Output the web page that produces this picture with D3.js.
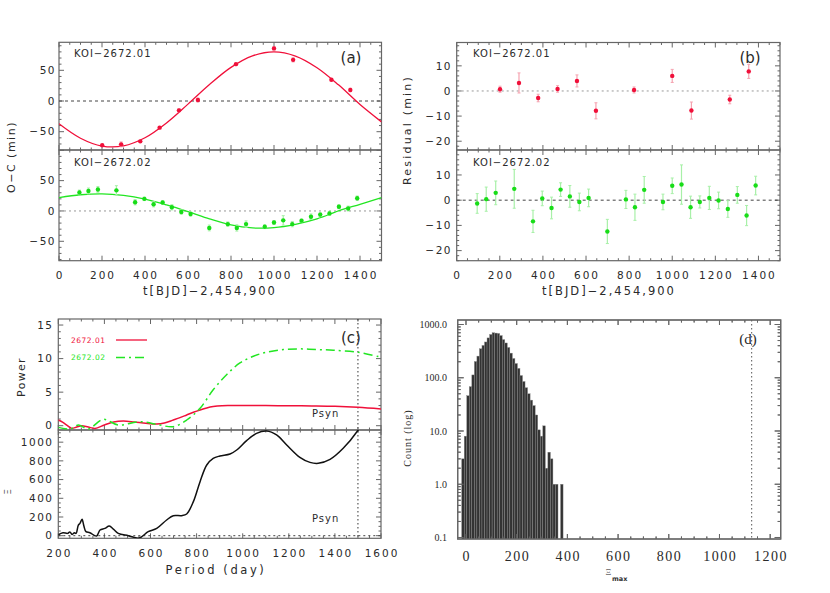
<!DOCTYPE html>
<html><head><meta charset="utf-8">
<script src="https://cdn.jsdelivr.net/npm/d3@7"></script>
<style>
body{margin:0;background:#fff;}
svg{display:block;}
text{font-family:"DejaVu Sans",sans-serif;fill:#2a2a2a;}
</style></head><body>
<svg id="c" width="830" height="593"></svg>
<script>
// ---------------- data ----------------
const t01   = [201, 289, 378, 468, 558, 646, 823, 1000, 1089, 1267, 1355];
const oc01  = [-72, -70.6, -65.7, -43.4, -15.2, 1.6, 60, 85.7, 67, 34.7, 18];
const res01 = [0.7, 3.2, -2.8, 0.8, 4.0, -7.9, 0.4, 6.0, -7.8, -3.4, 7.8];
const err01 = [1.2, 4.0, 1.5, 1.3, 2.4, 3.2, 1.2, 2.6, 3.4, 1.7, 2.8];

const t02   = [95, 137, 181, 267, 354, 397, 440, 482, 525, 569, 612, 699, 785, 827, 870, 957, 1000, 1043, 1085, 1128, 1172, 1215, 1258, 1302, 1345, 1387];
const oc02  = [30.5, 33, 35.5, 34, 14.4, 20, 11, 14, 6, -1.7, -5, -28, -21.7, -28, -21.7, -26, -19, -15.5, -21.7, -16, -9.5, -6, -4, 7, 4, 21];
const res02 = [-1.3, 0.4, 2.9, 4.5, -8.4, 0.7, -3.1, 4.2, 1.5, -0.7, 0.9, -12.4, 0.3, -2.8, 4.1, -0.7, 5.7, 6.2, -2.8, -0.7, 0.9, -0.1, -3.5, 2.1, -6.1, 5.8];
const err02 = [3.9, 4.8, 4.7, 7.7, 4.4, 2.9, 4.3, 2.7, 4.3, 3.5, 3.5, 4.8, 3.6, 5.2, 5.3, 3.1, 3.1, 7.8, 4.4, 2.4, 4.6, 3.3, 3.3, 3.3, 4.0, 3.7];

const modelT  = [0, 100, 200, 300, 400, 500, 600, 700, 800, 900, 1000, 1100, 1200, 1300, 1400, 1500];
const model01 = [-37, -60.6, -73.4, -73.1, -59.9, -35.8, -5.1, 26.8, 54.7, 73.5, 80, 73.2, 54.2, 26.3, -5.7, -34];
const model02 = [22, 26.7, 28.3, 25.6, 19.4, 10, -1, -13, -23, -28, -27.5, -22, -13, 0, 11, 22];

const powP01 = [200, 220, 240, 258, 280, 301, 330, 359, 400, 440, 482, 530, 580, 627, 660, 699, 728, 757, 786, 815, 844, 872, 910, 945, 1000, 1100, 1200, 1300, 1400, 1500, 1600];
const pow01  = [0.85, 0.5, 0.0, -0.4, -0.2, 0.0, -0.2, -0.4, 0.1, 0.55, 0.7, 0.55, 0.35, 0.25, 0.4, 0.85, 1.2, 1.6, 2.0, 2.35, 2.65, 2.85, 2.98, 3.0, 3.0, 3.0, 2.97, 2.95, 2.9, 2.75, 2.5];
const powP02 = [200, 251, 287, 330, 395, 460, 554, 641, 699, 757, 815, 872, 930, 988, 1046, 1104, 1176, 1248, 1321, 1393, 1501, 1600];
const pow02  = [-0.25, -0.5, 0.1, -0.5, 0.95, 0.1, 0.6, 0.1, -0.15, 0.85, 2.6, 5.35, 7.6, 9.35, 10.35, 10.95, 11.35, 11.45, 11.35, 11.25, 10.95, 10.2];

const xiP = [200, 220, 240, 250, 260, 270, 277, 287, 294, 303, 311, 320, 337, 366, 381, 402, 421, 439, 460, 504, 551, 590, 627, 670, 699, 735, 757, 786, 815, 844, 872, 901, 945, 974, 1017, 1060, 1104, 1147, 1191, 1248, 1292, 1328, 1379, 1436, 1501, 1530];
const xi  = [10, 32, 25, 40, 14, 32, 25, 114, 132, 175, 103, 43, 32, -4, 61, 78, 103, 71, 25, 0, -25, 43, 78, 168, 214, 214, 232, 364, 578, 756, 827, 852, 873, 916, 1016, 1094, 1119, 1077, 970, 838, 784, 774, 816, 934, 1130, 1250];

const psyn = 1500;
const xiObs = 1127;
const histStart = -17, histWidth = 10;
const histCounts = [3, 8, 46, 68, 113, 202, 255, 350, 405, 470, 560, 650, 700, 690, 680, 620, 520, 450, 370, 290, 230, 185, 150, 110, 85, 65, 50, 38, 30, 20, 10.5, 8, 12.5, 2, 4, 3, 1, 1, 0, 1];

const ocTicks = [-50, 0, 50];
const resTicks = [-20, -10, 0, 10];
const tTicks = [0, 200, 400, 600, 800, 1000, 1200, 1400];
const powTicks = [0, 5, 10, 15];
const xiTicks = [0, 200, 400, 600, 800, 1000];
const perTicks = [200, 400, 600, 800, 1000, 1200, 1400, 1600];
const cntTicks = [0.1, 1, 10, 100, 1000];
const ximaxTicks = [0, 200, 400, 600, 800, 1000, 1200];

// ---------------- styles ----------------
const RED = "#f0103a", RED_E = "#f5a3b0";
const GRN = "#22e622", GRN_P = "#18dd18", GRN_E = "#a8f0a8";
const FRAME = "#666";

const svg = d3.select("#c");
let clipId = 0;

function stepTicks(d, step) {
  const lo = Math.min(d[0], d[1]), hi = Math.max(d[0], d[1]);
  const r = [];
  for (let k = Math.ceil(lo / step - 1e-9); k * step <= hi + 1e-9; k++) r.push(k * step);
  return r;
}
function isMult(v, s) { return Math.abs(v / s - Math.round(v / s)) < 1e-6; }

function frame(x, y, o) {
  const g = svg.append("g");
  const [x0, x1] = x.range();
  const [yb, yt] = y.range();
  const segs = [];
  stepTicks(x.domain(), o.xMinor).forEach(v => {
    const L = isMult(v, o.xMajor) ? 5 : 2.5, p = x(v);
    segs.push([p, yb, p, yb - L], [p, yt, p, yt + L]);
  });
  if (o.log) {
    const [lo, hi] = y.domain();
    for (let d = -3; d <= 4; d++) for (let k = 1; k <= 9; k++) {
      const v = k * Math.pow(10, d);
      if (v < lo || v > hi) continue;
      const L = k === 1 ? 6 : 3, p = y(v);
      segs.push([x0, p, x0 + L, p], [x1, p, x1 - L, p]);
    }
  } else {
    stepTicks(y.domain(), o.yMinor).forEach(v => {
      const L = isMult(v, o.yMajor) ? 5 : 2.5, p = y(v);
      segs.push([x0, p, x0 + L, p], [x1, p, x1 - L, p]);
    });
  }
  g.selectAll("line").data(segs).join("line")
    .attr("x1", d => d[0]).attr("y1", d => d[1]).attr("x2", d => d[2]).attr("y2", d => d[3])
    .attr("stroke", FRAME).attr("stroke-width", 1);
  g.append("rect").attr("x", x0).attr("y", yt).attr("width", x1 - x0).attr("height", yb - yt)
    .attr("fill", "none").attr("stroke", FRAME).attr("stroke-width", 1.2);
  const id = "clip" + (clipId++);
  svg.append("clipPath").attr("id", id).append("rect")
    .attr("x", x0).attr("y", yt).attr("width", x1 - x0).attr("height", yb - yt);
  return id;
}

const fmt = v => String(v).replace("-", "\u2212");

function yLabels(y, ticks, xr, opt = {}) {
  svg.append("g").selectAll("text").data(ticks).join("text")
    .attr("x", xr).attr("y", d => y(d)).attr("dy", "0.36em")
    .attr("text-anchor", "end")
    .style("font-size", opt.size || "10.5px").style("letter-spacing", opt.ls || "1.5px")
    .style("font-family", opt.family || null)
    .text(d => opt.format ? opt.format(d) : fmt(d));
}
function xLabels(x, ticks, yb, opt = {}) {
  const ls = opt.ls === undefined ? 2 : opt.ls;
  svg.append("g").selectAll("text").data(ticks).join("text")
    .attr("x", d => x(d) + ls / 2).attr("y", yb)
    .attr("text-anchor", "middle")
    .style("font-size", opt.size || "10.5px").style("letter-spacing", ls + "px")
    .style("font-family", opt.family || null)
    .text(d => fmt(d));
}
function label(txt, x, y, o = {}) {
  const t = svg.append("text").attr("x", x).attr("y", y)
    .attr("text-anchor", o.anchor || "start")
    .style("font-size", o.size || "10px").style("letter-spacing", o.ls || "0px")
    .style("fill", o.fill || "#2a2a2a")
    .style("font-family", o.family || null)
    .text(txt);
  if (o.rot) t.attr("transform", `rotate(-90,${x},${y})`);
  return t;
}
function zeroLine(x, y, dash, color) {
  svg.append("line").attr("x1", x.range()[0]).attr("x2", x.range()[1])
    .attr("y1", y(0)).attr("y2", y(0))
    .attr("stroke", color).attr("stroke-width", 1).attr("stroke-dasharray", dash);
}
function points(x, y, ts, vs, es, col, ecol, clip) {
  const g = svg.append("g").attr("clip-path", `url(#${clip})`);
  g.selectAll("line").data(ts).join("line")
    .attr("x1", d => x(d)).attr("x2", d => x(d))
    .attr("y1", (d, i) => y(vs[i] - es[i])).attr("y2", (d, i) => y(vs[i] + es[i]))
    .attr("stroke", ecol).attr("stroke-width", 1.2);
  g.selectAll("line.cap").data(ts).join("line").attr("class", "cap")
    .attr("x1", d => x(d) - 1.5).attr("x2", d => x(d) + 1.5)
    .attr("y1", (d, i) => y(vs[i] - es[i])).attr("y2", (d, i) => y(vs[i] - es[i]))
    .attr("stroke", ecol).attr("stroke-width", 1);
  g.selectAll("line.cap2").data(ts).join("line").attr("class", "cap2")
    .attr("x1", d => x(d) - 1.5).attr("x2", d => x(d) + 1.5)
    .attr("y1", (d, i) => y(vs[i] + es[i])).attr("y2", (d, i) => y(vs[i] + es[i]))
    .attr("stroke", ecol).attr("stroke-width", 1);
  g.selectAll("circle").data(ts).join("circle")
    .attr("cx", d => x(d)).attr("cy", (d, i) => y(vs[i])).attr("r", 2.2).attr("fill", col);
}
function curve(x, y, xs, ys, col, w, dash, clip, cv) {
  const line = d3.line().x(d => x(d[0])).y(d => y(d[1])).curve(cv || d3.curveCatmullRom.alpha(0.5));
  svg.append("path").datum(xs.map((v, i) => [v, ys[i]]))
    .attr("d", line).attr("fill", "none").attr("stroke", col).attr("stroke-width", w)
    .attr("stroke-dasharray", dash || null).attr("clip-path", `url(#${clip})`);
}

// ---------------- panel (a) ----------------
const xA = d3.scaleLinear().domain([0, 1500]).range([59, 381.5]);
const yA1 = d3.scaleLinear().domain([-79.8, 95.6]).range([150, 42.3]);
const yA2 = d3.scaleLinear().domain([-82, 100.5]).range([260.7, 150]);
const cA1 = frame(xA, yA1, {xMajor: 200, xMinor: 50, yMajor: 50, yMinor: 10});
const cA2 = frame(xA, yA2, {xMajor: 200, xMinor: 50, yMajor: 50, yMinor: 10});
zeroLine(xA, yA1, "3,3", "#444");
zeroLine(xA, yA2, "2,3", "#999");
curve(xA, yA1, modelT, model01, RED, 1.3, null, cA1);
curve(xA, yA2, modelT, model02, GRN, 1.3, null, cA2);
points(xA, yA1, t01, oc01, err01, RED, RED_E, cA1);
points(xA, yA2, t02, oc02, err02, GRN_P, GRN_E, cA2);
yLabels(yA1, ocTicks, 56);
yLabels(yA2, ocTicks, 56);
xLabels(xA, tTicks, 278.5);
label("t[BJD]\u22122,454,900", 210, 295, {anchor: "middle", size: "11.5px", ls: "2px"});
label("O\u2212C (min)", 15, 157, {anchor: "middle", size: "11px", ls: "1.5px", rot: true});
label("KOI\u22122672.01", 74, 56.5, {size: "10px", ls: "1px"});
label("KOI\u22122672.02", 74, 166, {size: "10px", ls: "1px"});
label("(a)", 351, 63, {anchor: "middle", size: "15px"});

// ---------------- panel (b) ----------------
const xB = d3.scaleLinear().domain([0, 1500]).range([456.7, 780]);
const yB1 = d3.scaleLinear().domain([-23.5, 19.3]).range([150, 42.5]);
const yB2 = d3.scaleLinear().domain([-24, 19.9]).range([260.7, 150]);
const cB1 = frame(xB, yB1, {xMajor: 200, xMinor: 50, yMajor: 10, yMinor: 2});
const cB2 = frame(xB, yB2, {xMajor: 200, xMinor: 50, yMajor: 10, yMinor: 2});
zeroLine(xB, yB1, "2,3", "#999");
zeroLine(xB, yB2, "3,3", "#444");
points(xB, yB1, t01, res01, err01, RED, RED_E, cB1);
points(xB, yB2, t02, res02, err02, GRN_P, GRN_E, cB2);
yLabels(yB1, resTicks, 452);
yLabels(yB2, resTicks, 452);
xLabels(xB, tTicks, 278.5);
label("t[BJD]\u22122,454,900", 609, 295, {anchor: "middle", size: "11.5px", ls: "2px"});
label("Residual (min)", 411, 130, {anchor: "middle", size: "11px", ls: "2.2px", rot: true});
label("KOI\u22122672.01", 473, 56.5, {size: "10px", ls: "1px"});
label("KOI\u22122672.02", 473, 166, {size: "10px", ls: "1px"});
label("(b)", 750, 63, {anchor: "middle", size: "15px"});

// ---------------- panel (c) ----------------
const xC = d3.scaleLinear().domain([200, 1600]).range([58.3, 381]);
const yC1 = d3.scaleLinear().domain([-0.64, 15.9]).range([430, 319]);
const yC2 = d3.scaleLinear().domain([-27.8, 1130]).range([538.3, 430]);
const cC1 = frame(xC, yC1, {xMajor: 200, xMinor: 50, yMajor: 5, yMinor: 1});
const cC2 = frame(xC, yC2, {xMajor: 200, xMinor: 50, yMajor: 200, yMinor: 50});
zeroLine(xC, yC2, "2,3", "#444");
svg.append("line").attr("x1", xC(psyn)).attr("x2", xC(psyn)).attr("y1", 319).attr("y2", 538.3)
  .attr("stroke", "#333").attr("stroke-width", 1).attr("stroke-dasharray", "1.5,2.5");
curve(xC, yC1, powP01, pow01, RED, 1.5, null, cC1);
curve(xC, yC1, powP02, pow02, GRN, 1.5, "9,4,2,4", cC1);
curve(xC, yC2, xiP, xi, "#111", 1.5, null, cC2);
yLabels(yC1, powTicks, 53.5);
yLabels(yC2, xiTicks, 53.5);
xLabels(xC, perTicks, 556.5);
label("Period (day)", 216, 574, {anchor: "middle", size: "11.5px", ls: "2.6px"});
label("Power", 25, 377, {anchor: "middle", size: "11px", ls: "1.3px", rot: true});
label("\u039E", 11, 492, {anchor: "middle", size: "9px", rot: true, fill: "#555"});
label("Psyn", 312, 417, {size: "10px", ls: "1px"});
label("Psyn", 312, 521.5, {size: "10px", ls: "1px"});
label("(c)", 351, 343, {anchor: "middle", size: "15px"});
// legend
label("2672.01", 71, 342.7, {size: "7.5px", ls: "0.5px", fill: RED});
label("2672.02", 71, 360, {size: "7.5px", ls: "0.5px", fill: GRN});
svg.append("line").attr("x1", 116).attr("x2", 147).attr("y1", 340).attr("y2", 340)
  .attr("stroke", RED).attr("stroke-width", 1.3);
svg.append("line").attr("x1", 116).attr("x2", 147).attr("y1", 357.5).attr("y2", 357.5)
  .attr("stroke", GRN).attr("stroke-width", 1.3).attr("stroke-dasharray", "9,4,2,4");

// ---------------- panel (d) ----------------
const xD = d3.scaleLinear().domain([-32.7, 1241.5]).range([457.7, 780.7]);
const yD = d3.scaleLog().domain([0.0937, 1215]).range([539, 320]);
const cD = frame(xD, yD, {xMajor: 200, xMinor: 50, log: true});
const bars = histCounts.map((c, i) => ({x0: histStart + i * histWidth, c}));
svg.append("g").attr("clip-path", `url(#${cD})`).selectAll("rect").data(bars.filter(b => b.c > 0)).join("rect")
  .attr("x", d => xD(d.x0)).attr("width", d => xD(d.x0 + histWidth) - xD(d.x0))
  .attr("y", d => yD(d.c)).attr("height", d => 539 - yD(d.c))
  .attr("fill", "#333").attr("stroke", "#8a8a8a").attr("stroke-width", 0.4);
svg.append("line").attr("x1", xD(xiObs)).attr("x2", xD(xiObs)).attr("y1", 320).attr("y2", 539)
  .attr("stroke", "#555").attr("stroke-width", 1).attr("stroke-dasharray", "1.5,2.5");
// redraw frame lines on top of bars
frame(xD, yD, {xMajor: 200, xMinor: 50, log: true});
yLabels(yD, cntTicks, 447, {size: "10px", ls: "0px", family: "Liberation Serif, serif", format: d => d.toFixed(1)});
xLabels(xD, ximaxTicks, 560.5, {size: "14px", ls: 1.5, family: "Liberation Serif, serif"});
label("Count (log)", 411, 438, {anchor: "middle", size: "10px", ls: "1px", rot: true, family: "Liberation Serif, serif"});
label("\u039E", 608.5, 575, {anchor: "middle", size: "9px", fill: "#666", family: "Liberation Serif, serif"});
label("max", 612, 581, {size: "6.5px", fill: "#333", family: "DejaVu Sans, sans-serif"}).style("font-weight", "bold");
label("(d)", 748, 344, {anchor: "middle", size: "15px", family: "Liberation Serif, serif"});
</script>
</body></html>
